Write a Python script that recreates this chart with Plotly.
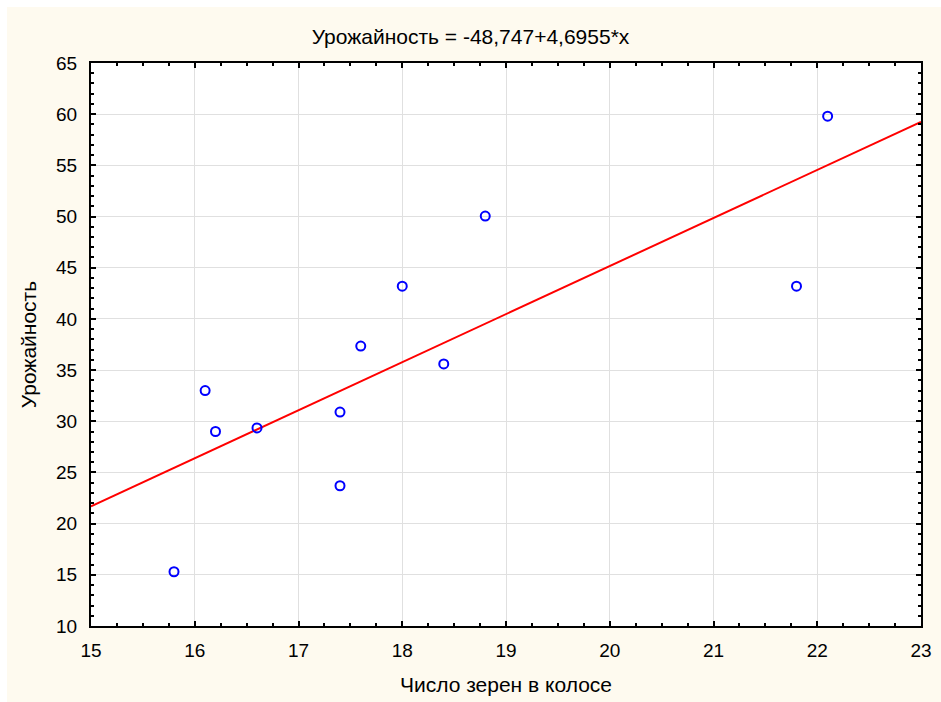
import plotly.graph_objects as go

grains = [15.8, 16.1, 16.2, 16.6, 17.4, 17.4, 17.6, 18.0, 18.4, 18.8, 21.8, 22.1]
yield_vals = [15.3, 33.0, 29.0, 29.35, 30.9, 23.7, 37.35, 43.2, 35.6, 50.05, 43.2, 59.8]
intercept = -48.747
slope = 4.6955
x_range = [15, 23]
y_range = [10, 65]

title_text = "Урожайность = -48,747+4,6955*x"
x_title = "Число зерен в колосе"
y_title = "Урожайность"

line_x = x_range
line_y = [intercept + slope * v for v in line_x]

cream = "#FEFAEF"
font_family = "Liberation Sans, Arial, sans-serif"

fig = go.Figure()
fig.add_trace(go.Scatter(x=line_x, y=line_y, mode="lines",
                         line=dict(color="#FF0000", width=2), hoverinfo="skip"))
fig.add_trace(go.Scatter(x=grains, y=yield_vals, mode="markers",
                         marker=dict(symbol="circle-open", size=9, color="#0000FF",
                                     line=dict(width=2, color="#0000FF"))))

W, H = 941, 702
ml, mr, mt, mb = 91, 20, 63, 76
pw, ph = W - ml - mr, H - mt - mb

def px_x(p):
    return (p - ml) / pw

def px_y(p):
    return (H - mb - p) / ph

axis_common = dict(
    showline=True, linecolor="black", linewidth=2, mirror="ticks",
    ticks="inside", ticklen=5, tickwidth=2, tickcolor="black",
    showgrid=True, gridcolor="#E0E0E0", gridwidth=1,
    zeroline=False, automargin=False,
    tickfont=dict(family=font_family, size=19, color="black"),
)

fig.update_xaxes(range=x_range, dtick=1, tick0=15, ticklabelstandoff=6,
                 minor=dict(dtick=0.25, ticks="inside", ticklen=3, tickwidth=1.5,
                            tickcolor="black", showgrid=False),
                 title=dict(text=x_title, font=dict(family=font_family, size=21, color="black"),
                            standoff=18),
                 **axis_common)
fig.update_yaxes(range=y_range, dtick=5, tick0=10, ticklabelstandoff=8,
                 minor=dict(dtick=1, ticks="inside", ticklen=3, tickwidth=1.5,
                            tickcolor="black", showgrid=False),
                 title=dict(text=y_title, font=dict(family=font_family, size=21, color="black"),
                            standoff=14),
                 **axis_common)

fig.update_layout(
    width=W, height=H,
    margin=dict(l=ml, r=mr, t=mt, b=mb),
    paper_bgcolor=cream, plot_bgcolor="white",
    showlegend=False,
    title=dict(text=title_text, x=0.5, xanchor="center", y=1 - 37 / H, yanchor="middle",
               font=dict(family=font_family, size=21, color="black")),
    shapes=[
        dict(type="rect", xref="paper", yref="paper", layer="above",
             x0=px_x(0), x1=px_x(W), y0=px_y(7), y1=px_y(0),
             fillcolor="white", line=dict(width=0)),
        dict(type="rect", xref="paper", yref="paper", layer="above",
             x0=px_x(0), x1=px_x(7), y0=px_y(H), y1=px_y(0),
             fillcolor="white", line=dict(width=0)),
    ],
)

fig.write_html("out.html")
